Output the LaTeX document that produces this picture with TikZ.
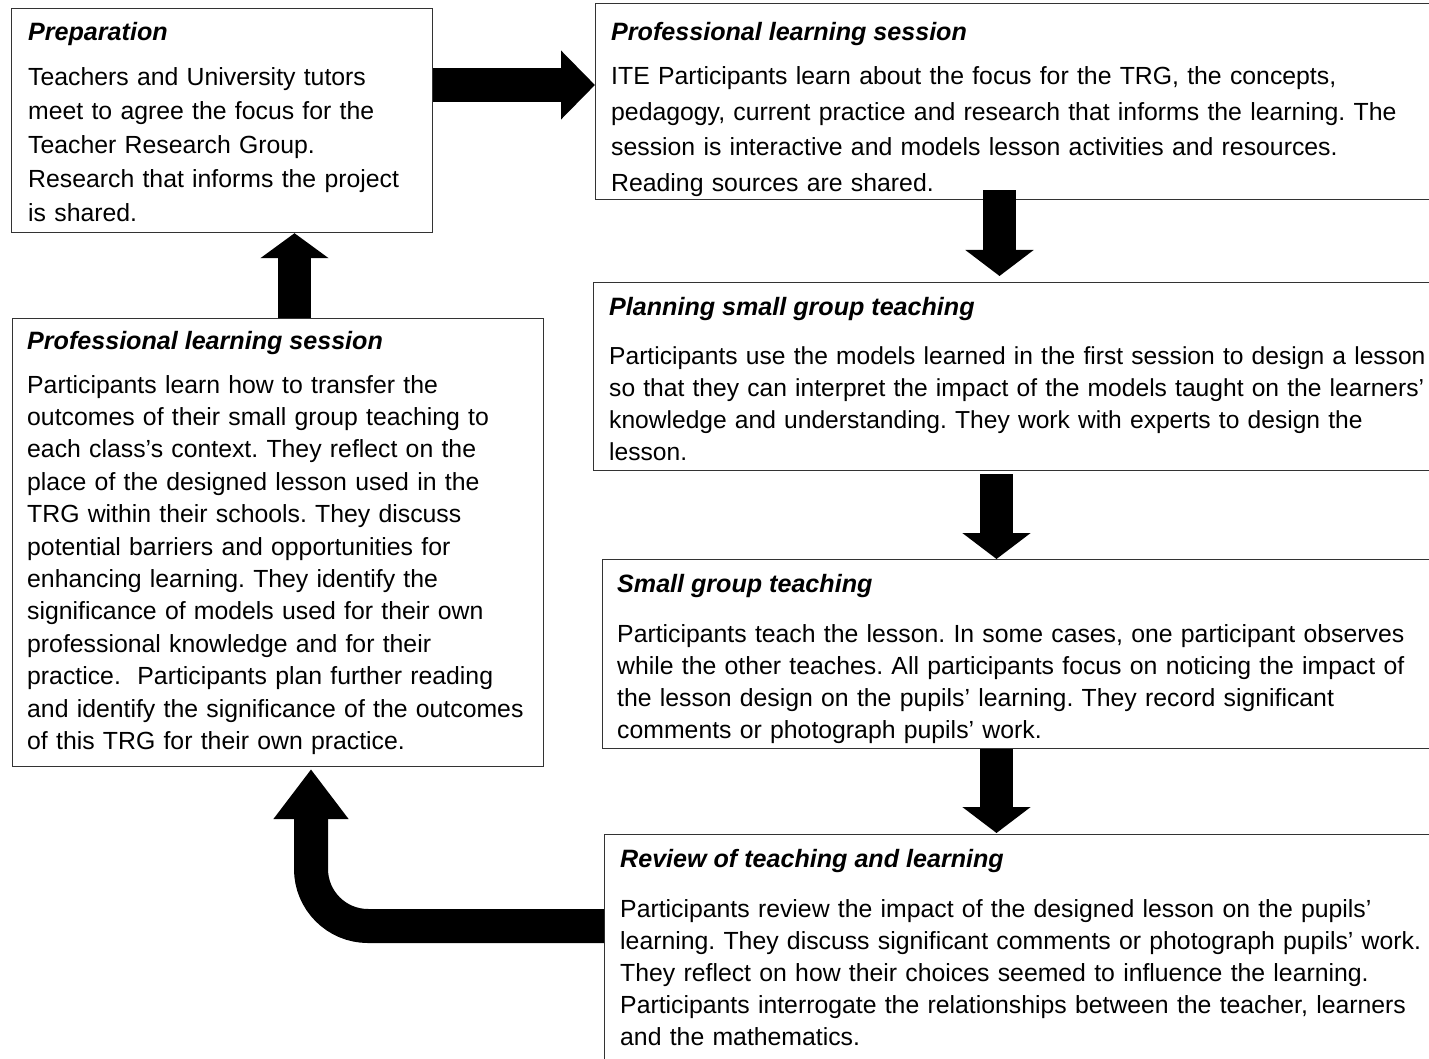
\documentclass[tikz,border=0pt]{standalone}
\usepackage{fontspec}
\setmainfont{Liberation Sans}
\usetikzlibrary{arrows.meta,calc}
\begin{document}
\begin{tikzpicture}[x=1pt,y=1pt,
  box/.style={draw=black!80, line width=1.2pt, anchor=north west, inner sep=0pt},
  ttl/.style={anchor=base west, inner sep=0pt, font=\fontsize{25.1}{30}\selectfont\bfseries\itshape},
  bodytext/.style={anchor=base west, inner sep=0pt, text width=840pt, align=left, font=\fontsize{24.8}{#1}\selectfont\frenchspacing},
  blk/.style={draw=black, line width=33pt, -{Triangle[length=26pt,width=67pt]}}]
\useasboundingbox (0,0) rectangle (1429,-1059);
\clip (0,0) rectangle (1429,-1059);
% boxes
\node[box, minimum width=421pt, minimum height=224pt] (prep) at (11,-8) {};
\node[box, minimum width=870pt, minimum height=196pt] (rpls) at (595,-3) {};
\node[box, minimum width=870pt, minimum height=188pt] (plan) at (593,-282) {};
\node[box, minimum width=870pt, minimum height=189pt] (sgt) at (602,-559) {};
\node[box, minimum width=870pt, minimum height=260pt] (rev) at (604,-834) {};
\node[box, minimum width=531pt, minimum height=448pt] (lpls) at (12,-318) {};
% texts
\node[ttl] (prepT) at (28,-41) {Preparation};
\node[bodytext=34] (prepB) at (28,-86) {Teachers and University tutors\\
meet to agree the focus for the\\
Teacher Research Group.\\
Research that informs the project\\
is shared.};
\node[ttl] (rplsT) at (611,-41) {Professional learning session};
\node[bodytext=35.5] (rplsB) at (611,-85) {ITE Participants learn about the focus for the TRG, the concepts,\\
pedagogy, current practice and research that informs the learning. The\\
session is interactive and models lesson activities and resources.\\
Reading sources are shared.};
\node[ttl] (planT) at (609,-315) {Planning small group teaching};
\node[bodytext=32.3, font=\fontsize{24.6}{32.3}\selectfont\frenchspacing] (planB) at (609,-364) {Participants use the models learned in the first session to design a lesson\\
so that they can interpret the impact of the models taught on the learners’\\
knowledge and understanding. They work with experts to design the\\
lesson.};
\node[ttl] (sgtT) at (617,-592) {Small group teaching};
\node[bodytext=32] (sgtB) at (617,-642) {Participants teach the lesson. In some cases, one participant observes\\
while the other teaches. All participants focus on noticing the impact of\\
the lesson design on the pupils’ learning. They record significant\\
comments or photograph pupils’ work.};
\node[ttl] (revT) at (620,-867) {Review of teaching and learning};
\node[bodytext=32] (revB) at (620,-917) {Participants review the impact of the designed lesson on the pupils’\\
learning. They discuss significant comments or photograph pupils’ work.\\
They reflect on how their choices seemed to influence the learning.\\
Participants interrogate the relationships between the teacher, learners\\
and the mathematics.};
\node[ttl] (lplsT) at (27,-349) {Professional learning session};
\node[bodytext=32.4] (lplsB) at (27,-393) {Participants learn how to transfer the\\
outcomes of their small group teaching to\\
each class’s context. They reflect on the\\
place of the designed lesson used in the\\
TRG within their schools. They discuss\\
potential barriers and opportunities for\\
enhancing learning. They identify the\\
significance of models used for their own\\
professional knowledge and for their\\
practice.~ Participants plan further reading\\
and identify the significance of the outcomes\\
of this TRG for their own practice.};
% arrows
\coordinate (a1y) at (0,-85);
\coordinate (a2x) at (999.5,0);
\coordinate (a3x) at (996.5,0);
\coordinate (a5x) at (294.5,0);
\coordinate (a6) at (311,-926);
\draw[blk, line width=34pt, -{Triangle[length=34pt,width=67pt]}] (prep.east |- a1y) -- (rpls.west |- a1y);
\draw[blk] ($(a2x |- rpls.south)+(0,10)$) -- ($(a2x |- plan.north)+(0,6)$);
\draw[blk] ($(a3x |- plan.south)+(0,-3)$) -- (a3x |- sgt.north);
\draw[blk] (a3x |- sgt.south) -- ($(a3x |- rev.north)+(0,1)$);
\draw[blk, -{Triangle[length=25pt,width=67pt]}] (a5x |- lpls.north) -- (a5x |- prep.south);
\draw[blk, line width=34pt, rounded corners=57pt, -{Triangle[length=50pt,width=72pt]}] (rev.west |- a6) -- (a6) -- ($(a6 |- lpls.south)+(0,-2)$);
\end{tikzpicture}
\end{document}
